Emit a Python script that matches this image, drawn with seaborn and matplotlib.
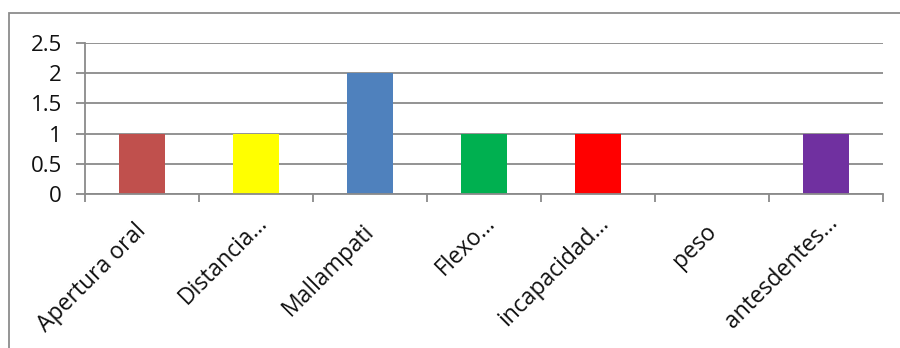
import matplotlib
matplotlib.use("Agg")
import matplotlib.pyplot as plt
from matplotlib.patches import Rectangle
from matplotlib.transforms import ScaledTranslation
import seaborn as sns
import pandas as pd
import numpy as np

categories = ["Apertura oral", "Distancia...", "Mallampati", "Flexo...",
              "incapacidad...", "peso", "antesdentes..."]
values = [1, 1, 2, 1, 1, 0, 1]
colors = ["#C0504D", "#FFFF00", "#4F81BD", "#00B050", "#FF0000", "#FFFFFF", "#7030A0"]
y_ticks = [0, 0.5, 1, 1.5, 2, 2.5]
y_tick_labels = ["0", "0.5", "1", "1.5", "2", "2.5"]

sns.set_style("white")
plt.rcParams["font.family"] = ["Open Sans", "DejaVu Sans"]

df = pd.DataFrame({"categoria": categories, "valor": values})

fig = plt.figure(figsize=(9, 3.48), dpi=100)
ax = fig.add_axes([85 / 900, 154 / 348, 798 / 900, 151 / 348])

grid_color = "#8A8A8A"

sns.barplot(data=df, x="categoria", y="valor", hue="categoria",
            palette=colors, width=0.41, legend=False, ax=ax,
            saturation=1, linewidth=0)

ax.set_xlim(-0.5, len(categories) - 0.5)
ax.set_ylim(0, 2.5)
ax.set_yticks(y_ticks)
ax.set_yticklabels(y_tick_labels)
ax.yaxis.grid(True, color=grid_color, linewidth=1.3)
ax.set_axisbelow(True)

ax.set_xlabel("")
ax.set_ylabel("")

for side in ("top", "right"):
    ax.spines[side].set_visible(False)
for side in ("left", "bottom"):
    ax.spines[side].set_color(grid_color)
    ax.spines[side].set_linewidth(1.3)

# category labels at bar centres, tick marks on category boundaries
ax.set_xticks(range(len(categories)))
ax.set_xticklabels(categories, rotation=45, ha="right", va="baseline",
                   rotation_mode="anchor", fontsize=16.5, color="#111111")
ax.tick_params(axis="x", which="major", bottom=True, length=0, pad=23)
for lbl in ax.get_xticklabels():
    # truncated labels sit a little further right and higher
    if lbl.get_text().endswith("..."):
        dx, dy = 12, 2
    else:
        dx, dy = 5, -6
    lbl.set_transform(lbl.get_transform()
                      + ScaledTranslation(dx / 100, dy / 100, fig.dpi_scale_trans))
ax.set_xticks(np.arange(-0.5, len(categories)), minor=True)
ax.tick_params(axis="x", which="minor", bottom=True, direction="out",
               length=6, width=1.3, color=grid_color)
ax.tick_params(axis="y", which="major", left=True, direction="out",
               length=6.5, width=1.3, color=grid_color, labelsize=16,
               labelcolor="#111111", pad=10)

# outer chart frame
fig.patches.append(Rectangle((9 / 900, -0.1), 1.0, 0.1 + (348 - 13) / 348,
                             transform=fig.transFigure, fill=False,
                             edgecolor="#8C8C8C", linewidth=1.3))

fig.savefig("out.png", dpi=100)
